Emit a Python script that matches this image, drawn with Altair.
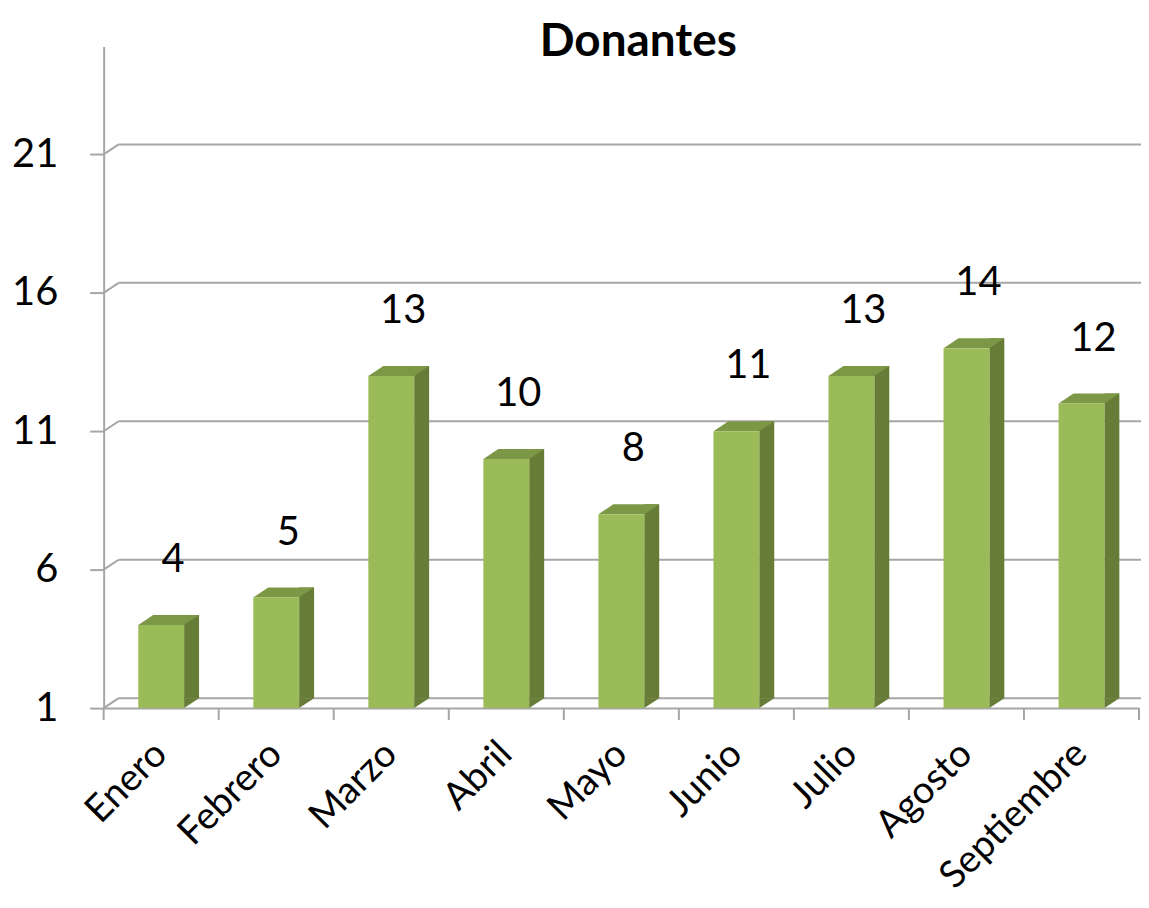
import altair as alt
import pandas as pd

meses = ["Enero", "Febrero", "Marzo", "Abril", "Mayo", "Junio", "Julio", "Agosto", "Septiembre"]
donantes = [4, 5, 13, 10, 8, 11, 13, 14, 12]
y_ticks = [1, 6, 11, 16, 21]
y_min, y_max = 1, 24.9

W, H = 1039, 664
DX, DY = 15, 10      # 3-D depth in px
BW = 46              # front face width in px
FONT = "Lato"
GRAY = "#A6A6A6"
FRONT, SIDE, TOP = "#9BBB59", "#677D37", "#7C9846"

bars = pd.DataFrame({"mes": meses, "v": donantes, "base": [y_min] * len(meses)})
grid = pd.DataFrame({"t": y_ticks})

y_scale = alt.Scale(domain=[y_min, y_max], nice=False, zero=False)
x_scale = alt.Scale(paddingInner=0, paddingOuter=0)

x_axis = alt.Axis(title=None, labelAngle=315, labelAlign="right", labelBaseline="middle",
                  labelFont=FONT, labelFontSize=38, labelColor="#000000", labelPadding=40,
                  labelLimit=0, ticks=False, domain=True, domainColor=GRAY, domainWidth=2)
y_axis = alt.Axis(title=None, values=y_ticks, grid=False, tickSize=14, tickColor=GRAY,
                  tickWidth=2, domainColor=GRAY, domainWidth=2, labelFont=FONT,
                  labelFontSize=40, labelColor="#000000", labelPadding=32)

def xenc(**kw):
    return alt.X("mes:N", sort=meses, scale=x_scale, axis=x_axis, **kw)

def yenc(field):
    return alt.Y(field, scale=y_scale, axis=y_axis)

s = 50.0  # symbol unit (size 10000 -> 1 unit = 50 px)
hw, dx, dy = BW / 2 / s, DX / s, DY / s
top_path = f"M {-hw} 0 L {hw} 0 L {hw + dx} {-dy} L {-hw + dx} {-dy} Z"
bot_path = f"M {hw} {-dy} L {hw} 0 L {hw + dx} {-dy} Z"

base = alt.Chart(bars)

gridlines = alt.Chart(grid).mark_rule(color=GRAY, strokeWidth=2, yOffset=-DY).encode(
    y=yenc("t:Q"), x=alt.value(DX), x2=alt.value(W + 2),
)
connectors = alt.Chart(grid).mark_rule(color=GRAY, strokeWidth=2, y2Offset=-DY).encode(
    y=yenc("t:Q"), y2=alt.Y2("t"), x=alt.value(0), x2=alt.value(DX),
)

xticks = base.mark_rule(color=GRAY, strokeWidth=2).encode(
    x=xenc(bandPosition=0), y=alt.value(H), y2=alt.value(H + 12),
)
last_tick = alt.Chart(grid.head(1)).mark_rule(color=GRAY, strokeWidth=2).encode(
    x=alt.value(W), y=alt.value(H), y2=alt.value(H + 12),
)

side = base.mark_bar(width=DX, xOffset=BW / 2 + DX / 2, yOffset=-DY, y2Offset=-DY, color=SIDE).encode(
    x=xenc(), y=yenc("v:Q"), y2="base",
)
topf = base.mark_point(shape=top_path, size=10000, filled=True, opacity=1, color=TOP, strokeWidth=0).encode(
    x=xenc(), y=yenc("v:Q"),
)
botf = base.mark_point(shape=bot_path, size=10000, filled=True, opacity=1, color=SIDE, strokeWidth=0).encode(
    x=xenc(), y=yenc("base:Q"),
)
front = base.mark_bar(width=BW, color=FRONT).encode(
    x=xenc(), y=yenc("v:Q"), y2="base",
)
labels = base.mark_text(font=FONT, fontSize=40, dx=12, dy=-65, baseline="middle", color="#000000").encode(
    x=xenc(), y=yenc("v:Q"), text="v:Q",
)

chart = alt.layer(gridlines, connectors, xticks, last_tick, side, topf, front, botf, labels).properties(
    width=W, height=H,
    title=alt.Title("Donantes", font=FONT, fontSize=46, fontWeight="bold", anchor="middle",
                    dx=17, offset=-20, color="#000000"),
    autosize=alt.AutoSizeParams(type="none"),
    padding={"left": 96, "top": 37, "right": 2, "bottom": 191},
    background="white",
).configure_view(stroke=None)

chart.save("out.html", embed_options={"renderer": "svg", "actions": False})
